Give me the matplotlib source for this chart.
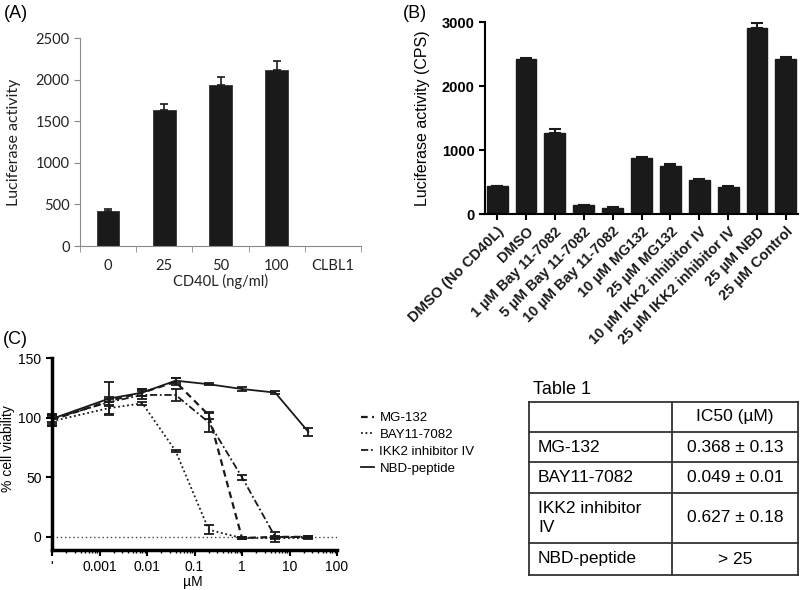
import matplotlib
matplotlib.use("Agg")
import matplotlib.pyplot as plt
import numpy as np

plt.rcParams['font.family'] = ['Liberation Sans', 'DejaVu Sans']

# (A) luciferase activity vs CD40L dose
a_labels = ["0", "25", "50", "100", "CLBL1"]
a_values = [420, 1630, 1935, 2115, np.nan]
a_errors = [25, 80, 95, 110, np.nan]

# (B) luciferase activity with inhibitors
b_labels = ["DMSO (No CD40L)", "DMSO", "1 µM Bay 11-7082", "5 µM Bay 11-7082",
            "10 µM Bay 11-7082", "10 µM MG132", "25 µM MG132",
            "10 µM IKK2 inhibitor IV", "25 µM IKK2 inhibitor IV",
            "25 µM NBD", "25 µM Control"]
b_values = [430, 2420, 1265, 140, 100, 875, 750, 530, 425, 2910, 2420]
b_errors = [8, 15, 60, 8, 6, 15, 30, 10, 6, 70, 40]

# (C) cell viability, first dose is the untreated control drawn at the axis start
c_doses = [1e-4, 0.0016, 0.008, 0.04, 0.2, 1, 5, 25]
c_ticks = [1e-4, 0.001, 0.01, 0.1, 1, 10, 100]
c_ticklabels = ["'", "0.001", "0.01", "0.1", "1", "10", "100"]
mg132 = [98, 114, 121, 130, 102, -1, 0, 0]
mg132_err = [5, 3, 3, 3, 3, 1, 1, 1]
bay = [97, 108, 112, 72, 6, -1, -1, -1]
bay_err = [4, 5, 1, 1, 4, 1, 1, 1]
ikk2 = [99, 113, 119, 119, 96, 50, 0, 0]
ikk2_err = [3, 3, 3, 5, 8, 2, 4, 1]
nbd = [99, 116, 121, 131, 128, 124, 121, 88]
nbd_err = [4, 14, 3, 2, 1, 2, 1, 3]

# Table 1
table_header = ["", "IC50 (µM)"]
table_rows = [("MG-132", "0.368 ± 0.13"),
              ("BAY11-7082", "0.049 ± 0.01"),
              ("IKK2 inhibitor\nIV", "0.627 ± 0.18"),
              ("NBD-peptide", "> 25")]

W, H = 800, 590
fig = plt.figure(figsize=(W / 100, H / 100), dpi=100)


def rect(l, t, r, b):
    return [l / W, 1 - b / H, (r - l) / W, (b - t) / H]


# ---------------- (A)
ax = fig.add_axes(rect(80, 38, 361, 246))
x = np.arange(len(a_labels))
ax.bar(x, a_values, width=0.4, color="#1a1a1a", edgecolor="#333333", linewidth=0.6)
ax.errorbar(x, a_values, yerr=[np.zeros(len(x)), a_errors], fmt="none",
            ecolor="#1a1a1a", elinewidth=1.2, capsize=3, capthick=1.2)
ax.set_xlim(-0.5, 4.5)
ax.set_ylim(0, 2500)
ax.set_yticks(range(0, 2501, 500))
ax.set_xticks(x)
ax.set_xticklabels(a_labels)
ax.set_xticks(np.arange(-0.5, 5, 1), minor=True)
for s in ["top", "right"]:
    ax.spines[s].set_visible(False)
for s in ["left", "bottom"]:
    ax.spines[s].set_color("#8a8a8a")
ax.tick_params(axis="x", which="major", length=0, pad=9, labelsize=10.5, labelcolor="#222222")
ax.tick_params(axis="x", which="minor", length=4, color="#8a8a8a", direction="out")
ax.tick_params(axis="y", length=4, color="#8a8a8a", labelsize=10.5, labelcolor="#222222")
for lab in ax.get_xticklabels() + ax.get_yticklabels():
    lab.set_family("Lato")
ax.set_ylabel("Luciferase activity", family="Lato", fontsize=11.5, color="#222222")
ax.yaxis.set_label_coords(-0.21, 0.5)
ax.set_xlabel("CD40L (ng/ml)", family="Lato", fontsize=10.5, color="#222222")
ax.xaxis.set_label_coords(0.5, -0.135)

# ---------------- (B)
bx = fig.add_axes(rect(485, 22, 798, 214))
xb = np.arange(len(b_labels))
bx.bar(xb, b_values, width=0.72, color="#1a1a1a", edgecolor="#1a1a1a")
bx.errorbar(xb, b_values, yerr=[np.zeros(len(xb)), b_errors], fmt="none",
            ecolor="#1a1a1a", elinewidth=1.5, capsize=4, capthick=1.5)
bx.set_xlim(-0.42, 10.42)
bx.set_ylim(0, 3000)
bx.set_yticks([0, 1000, 2000, 3000])
bx.set_xticks(xb)
bx.set_xticklabels(b_labels, rotation=45, ha="right", rotation_mode="anchor",
                   fontsize=10, fontweight="bold", color="#1a1a1a")
for s in ["top", "right"]:
    bx.spines[s].set_visible(False)
for s in ["left", "bottom"]:
    bx.spines[s].set_linewidth(1.5)
bx.tick_params(length=4, width=1.5, labelsize=10.5)
for lab in bx.get_yticklabels():
    lab.set_fontweight("bold")
bx.set_ylabel("Luciferase activity (CPS)", fontsize=11.5)
bx.yaxis.set_label_coords(-0.175, 0.5)

# ---------------- (C)
cx = fig.add_axes(rect(52, 358, 337, 550))
cx.set_xscale("log")
cx.axhline(0, color="#444444", linestyle=(0, (1, 2)), linewidth=1)
series = [("MG-132", mg132, mg132_err, (0, (3, 2)), 1.6),
          ("BAY11-7082", bay, bay_err, (0, (1, 1.5)), 1.3),
          ("IKK2 inhibitor IV", ikk2, ikk2_err, (0, (4, 1.5, 1, 1.5)), 1.3),
          ("NBD-peptide", nbd, nbd_err, "-", 1.3)]
handles = []
for name, ys, es, ls, lw in series:
    cont = cx.errorbar(c_doses, ys, yerr=es, color="#1a1a1a", linestyle=ls, linewidth=lw,
                       elinewidth=1.3, capsize=3.5, capthick=1.3, clip_on=False)
    handles.append(cont.lines[0])
cx.set_xlim(1e-4, 100)
cx.set_ylim(-11, 150)
cx.set_yticks([0, 50, 100, 150])
cx.set_xticks(c_ticks)
cx.set_xticklabels(c_ticklabels)
cx.get_xticklabels()[0].set_fontsize(4)
for s in ["top", "right"]:
    cx.spines[s].set_visible(False)
for s in ["left", "bottom"]:
    cx.spines[s].set_linewidth(2.5)
cx.tick_params(which="major", length=4, width=1.5, labelsize=10)
cx.tick_params(which="minor", length=2, width=1)
cx.set_ylabel("% cell viability", fontsize=10)
cx.yaxis.set_label_coords(-0.13, 0.53)
cx.set_xlabel("µM", fontsize=10)
cx.xaxis.set_label_coords(0.495, -0.13)
cx.legend(handles, [s[0] for s in series], loc="upper left",
          bbox_to_anchor=(361 / W, 1 - 412 / H), bbox_transform=fig.transFigure,
          frameon=False, fontsize=9.5, handlelength=1.0, handletextpad=0.4,
          labelspacing=0.35, borderaxespad=0, borderpad=0)

# ---------------- Table 1
tx = fig.add_axes(rect(529, 402, 798, 575))
tx.set_xlim(0, 269)
tx.set_ylim(173, 0)
tx.axis("off")
row_h = [30, 30, 31, 50, 32]
col_split = 143
edges = np.concatenate([[0], np.cumsum(row_h)])
edges = edges * 173 / edges[-1]
lc = "#333333"
for yy in edges:
    tx.plot([0, 269], [yy, yy], color=lc, lw=1.3, clip_on=False)
for xx in [0, col_split, 269]:
    tx.plot([xx, xx], [0, 173], color=lc, lw=1.3, clip_on=False)
cells = [table_header] + [list(r) for r in table_rows]
for i, (left, right) in enumerate(cells):
    yc = (edges[i] + edges[i + 1]) / 2
    tx.text(9, yc, left, ha="left", va="center", fontsize=12.5, linespacing=1.3)
    tx.text((col_split + 269) / 2, yc, right, ha="center", va="center", fontsize=12.5)
fig.text(533 / W, 1 - 390 / H, "Table 1", ha="left", va="center", fontsize=13)

# panel letters
fig.text(4 / W, 1 - 13 / H, "(A)", fontsize=13, va="center")
fig.text(403 / W, 1 - 13 / H, "(B)", fontsize=13, va="center")
fig.text(3 / W, 1 - 340 / H, "(C)", fontsize=13, va="center")

fig.savefig("out.png", dpi=100)
